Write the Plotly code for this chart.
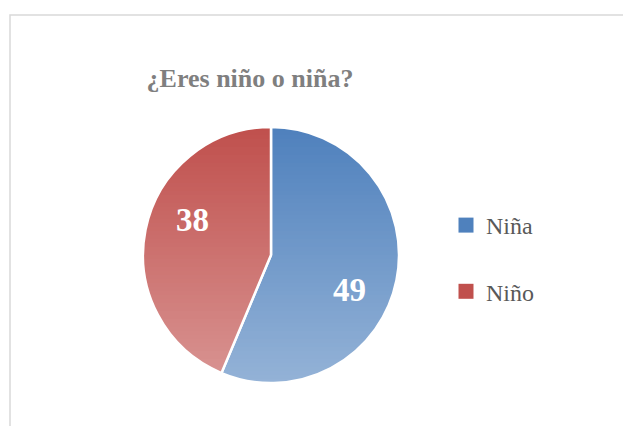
import math
import plotly.graph_objects as go

labels = ["Niña", "Niño"]
values = [49, 38]
colors = ["#4F81BD", "#C0504D"]
title_text = "¿Eres niño o niña?"

W, H = 631, 426
OFF = 8  # page body margin offset
pie_left, pie_right, pie_top, pie_bottom = 143 - OFF, 399 - OFF, 127 - OFF, 383 - OFF
cx = (pie_left + pie_right) / 2
cy = (pie_top + pie_bottom) / 2
R = (pie_right - pie_left) / 2

fig = go.Figure()
fig.add_trace(go.Pie(
    labels=labels, values=values, sort=False, direction="clockwise", rotation=0,
    marker=dict(colors=colors, line=dict(color="white", width=2.5)),
    textinfo="none",
    domain=dict(x=[pie_left / W, pie_right / W], y=[1 - pie_bottom / H, 1 - pie_top / H]),
    showlegend=False, hoverinfo="label+value",
))

# legend proxies
for lab, col in zip(labels, colors):
    fig.add_trace(go.Scatter(
        x=[None], y=[None], mode="markers", name=lab, legendgroup=lab,
        marker=dict(symbol="square", size=15, color=col),
    ))

# value labels placed from slice angles
annotations = []
total = sum(values)
cum = 0
for v in values:
    mid = (cum + v / 2) / total * 360 + 13
    cum += v
    th = math.radians(mid)
    px = cx + 0.67 * R * math.sin(th)
    py = cy - 0.67 * R * math.cos(th)
    annotations.append(dict(
        text=f"<b>{v}</b>", x=px / W, y=1 - py / H, xref="paper", yref="paper",
        showarrow=False, xanchor="center", yanchor="middle",
        font=dict(family="Liberation Serif", size=33, color="white"),
    ))

# vertical gradient effect (lighter toward bottom): pixel-aligned white strips
shapes = []
step = 4
n = int((pie_bottom - pie_top) / step) + 1
for i in range(n):
    y0 = pie_top + i * step
    y1 = y0 + step
    a = 0.40 * (i + 0.5) / n
    shapes.append(dict(
        type="rect", xref="paper", yref="paper", layer="above",
        x0=(pie_left - 4) / W, x1=(pie_right + 4) / W,
        y0=1 - y1 / H, y1=1 - y0 / H,
        fillcolor=f"rgba(255,255,255,{a:.3f})", line=dict(width=0),
    ))
# outer frame
shapes.append(dict(
    type="rect", xref="paper", yref="paper", layer="below",
    x0=(10 - OFF) / W, x1=1.05, y0=-0.05, y1=1 - (15 - OFF) / H,
    line=dict(color="#D9D9D9", width=1.5), fillcolor="rgba(0,0,0,0)",
))

fig.update_layout(
    width=W, height=H,
    margin=dict(l=0, r=0, t=0, b=0),
    paper_bgcolor="white", plot_bgcolor="white",
    font=dict(family="Liberation Serif"),
    title=dict(text="<b>" + title_text + "</b>", x=(250 - OFF) / W, y=1 - (78 - OFF) / H,
               xanchor="center", yanchor="middle",
               font=dict(family="Liberation Serif", size=26, color="#7F7F7F")),
    xaxis=dict(visible=False, domain=[0.9, 1.0]),
    yaxis=dict(visible=False, domain=[0.9, 1.0]),
    legend=dict(x=438 / W, y=1 - 195 / H, xanchor="left", yanchor="top",
                font=dict(family="Liberation Serif", size=24, color="#595959"),
                tracegroupgap=32, bgcolor="rgba(0,0,0,0)", itemwidth=30),
    shapes=shapes,
    annotations=annotations,
)

fig.write_html("out.html")
